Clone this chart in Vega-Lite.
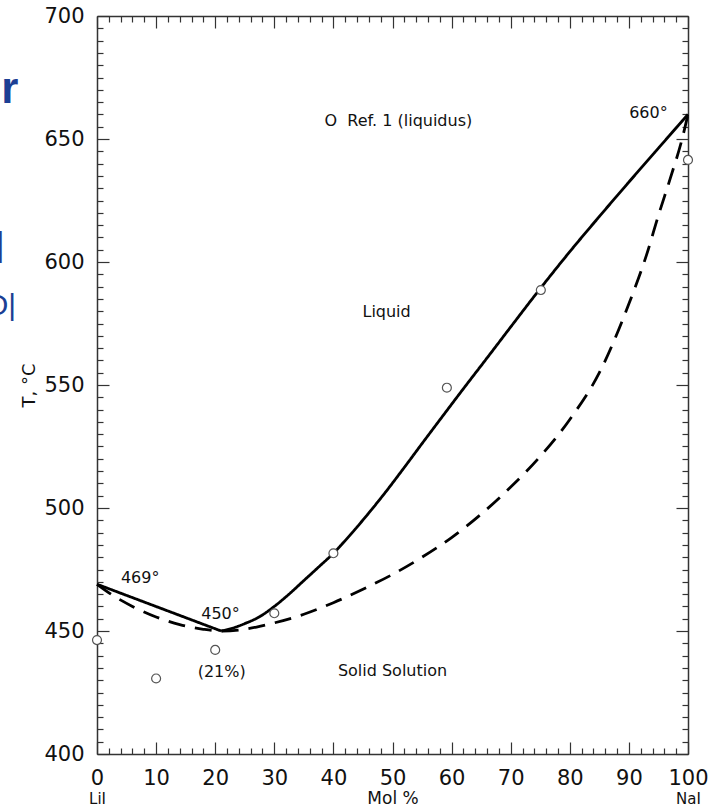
{
  "$schema": "https://vega.github.io/schema/vega-lite/v6.json",
  "autosize": {"type": "none"},
  "width": 591,
  "height": 738,
  "padding": {"left": 97, "top": 16, "right": 34, "bottom": 52},
  "background": "white",
  "config": {
    "font": "DejaVu Sans",
    "view": {"stroke": null},
    "axis": {"grid": false, "labelColor": "#111", "tickColor": "#333", "domainColor": "#333", "domainWidth": 1.5, "tickWidth": 1.2, "labelFlush": false, "labelOverlap": false}
  },
  "datasets": {
    "curves": [
      {"curve": "liquidus-left", "x": 0, "T": 469},
      {"curve": "liquidus-left", "x": 21, "T": 450},
      {"curve": "liquidus-right", "x": 21, "T": 450},
      {"curve": "liquidus-right", "x": 23, "T": 451.2},
      {"curve": "liquidus-right", "x": 25, "T": 453},
      {"curve": "liquidus-right", "x": 27.5, "T": 455.8},
      {"curve": "liquidus-right", "x": 30, "T": 460},
      {"curve": "liquidus-right", "x": 32.5, "T": 465},
      {"curve": "liquidus-right", "x": 35, "T": 470.5},
      {"curve": "liquidus-right", "x": 37.5, "T": 476},
      {"curve": "liquidus-right", "x": 40, "T": 481.6},
      {"curve": "liquidus-right", "x": 43, "T": 489.5},
      {"curve": "liquidus-right", "x": 46, "T": 498},
      {"curve": "liquidus-right", "x": 49, "T": 507},
      {"curve": "liquidus-right", "x": 52, "T": 516.5},
      {"curve": "liquidus-right", "x": 55, "T": 526.2},
      {"curve": "liquidus-right", "x": 58, "T": 535.8},
      {"curve": "liquidus-right", "x": 62, "T": 548.5},
      {"curve": "liquidus-right", "x": 66, "T": 561},
      {"curve": "liquidus-right", "x": 70, "T": 573.6},
      {"curve": "liquidus-right", "x": 75, "T": 589.2},
      {"curve": "liquidus-right", "x": 80, "T": 604.2},
      {"curve": "liquidus-right", "x": 85, "T": 618.5},
      {"curve": "liquidus-right", "x": 90, "T": 632.5},
      {"curve": "liquidus-right", "x": 95, "T": 646.3},
      {"curve": "liquidus-right", "x": 100, "T": 660},
      {"curve": "solidus", "x": 0, "T": 469},
      {"curve": "solidus", "x": 3, "T": 464},
      {"curve": "solidus", "x": 6, "T": 460},
      {"curve": "solidus", "x": 10, "T": 455.7},
      {"curve": "solidus", "x": 14, "T": 452.6},
      {"curve": "solidus", "x": 18, "T": 450.7},
      {"curve": "solidus", "x": 21, "T": 450},
      {"curve": "solidus", "x": 24, "T": 450.4},
      {"curve": "solidus", "x": 27, "T": 451.6},
      {"curve": "solidus", "x": 30, "T": 453.3},
      {"curve": "solidus", "x": 35, "T": 456.8},
      {"curve": "solidus", "x": 40, "T": 461.5},
      {"curve": "solidus", "x": 45, "T": 467},
      {"curve": "solidus", "x": 50, "T": 473},
      {"curve": "solidus", "x": 55, "T": 480},
      {"curve": "solidus", "x": 60, "T": 488},
      {"curve": "solidus", "x": 65, "T": 497.5},
      {"curve": "solidus", "x": 70, "T": 508.5},
      {"curve": "solidus", "x": 75, "T": 521},
      {"curve": "solidus", "x": 80, "T": 536},
      {"curve": "solidus", "x": 85, "T": 555},
      {"curve": "solidus", "x": 90, "T": 583},
      {"curve": "solidus", "x": 93, "T": 603},
      {"curve": "solidus", "x": 95, "T": 619},
      {"curve": "solidus", "x": 97, "T": 634},
      {"curve": "solidus", "x": 99, "T": 650},
      {"curve": "solidus", "x": 100, "T": 660}
    ],
    "ref1": [
      {"x": 0, "T": 446.3},
      {"x": 10, "T": 430.7},
      {"x": 20, "T": 442.3},
      {"x": 30, "T": 457.2},
      {"x": 40, "T": 481.6},
      {"x": 59.2, "T": 548.9},
      {"x": 75.1, "T": 588.6},
      {"x": 100, "T": 641.5}
    ],
    "notes": [
      {"x": 51.0, "T": 655.3, "text": "O\u00a0 Ref. 1 (liquidus)"},
      {"x": 49.0, "T": 577.8, "text": "Liquid"},
      {"x": 50.0, "T": 431.7, "text": "Solid Solution"},
      {"x": 7.3, "T": 469.4, "text": "469°"},
      {"x": 20.9, "T": 454.8, "text": "450°"},
      {"x": 21.1, "T": 431.2, "text": "(21%)"},
      {"x": 93.3, "T": 658.4, "text": "660°"}
    ],
    "slideBold": [
      {"x": -13.3, "T": 664.5, "text": "ir"},
      {"x": -15.6, "T": 599.6, "text": "l"}
    ],
    "slideRegular": [
      {"x": -13.7, "T": 578.5, "text": "O|"}
    ]
  },
  "resolve": {"axis": {"x": "independent", "y": "independent"}},
  "layer": [
    {
      "data": {"name": "curves"},
      "mark": {"type": "line", "color": "black", "strokeWidth": 2.8, "interpolate": "monotone"},
      "encoding": {
        "x": {
          "field": "x", "type": "quantitative",
          "scale": {"domain": [0, 100], "nice": false, "zero": false},
          "axis": {
            "orient": "bottom", "title": null,
            "values": [0,2,4,6,8,10,12,14,16,18,20,22,24,26,28,30,32,34,36,38,40,42,44,46,48,50,52,54,56,58,60,62,64,66,68,70,72,74,76,78,80,82,84,86,88,90,92,94,96,98,100],
            "labelExpr": "datum.value % 10 === 0 ? datum.label : ''",
            "tickSize": {"condition": {"test": "datum.value % 10 === 0", "value": -12}, "value": -6},
            "labelFontSize": 21, "labelPadding": 25
          }
        },
        "y": {
          "field": "T", "type": "quantitative",
          "scale": {"domain": [400, 700], "nice": false, "zero": false},
          "axis": {
            "orient": "left", "title": "T, °C",
            "titleFontSize": 18, "titleFontWeight": "normal", "titleColor": "#111", "titlePadding": 5,
            "values": [400,405,410,415,420,425,430,435,440,445,450,455,460,465,470,475,480,485,490,495,500,505,510,515,520,525,530,535,540,545,550,555,560,565,570,575,580,585,590,595,600,605,610,615,620,625,630,635,640,645,650,655,660,665,670,675,680,685,690,695,700],
            "labelExpr": "datum.value % 50 === 0 ? datum.label : ''",
            "tickSize": {"condition": {"test": "datum.value % 50 === 0", "value": -12}, "value": -6},
            "labelFontSize": 21, "labelPadding": 25
          }
        },
        "detail": {"field": "curve", "type": "nominal"},
        "strokeDash": {
          "field": "curve", "type": "nominal",
          "scale": {"domain": ["liquidus-left", "liquidus-right", "solidus"], "range": [[1, 0], [1, 0], [17, 10]]},
          "legend": null
        }
      }
    },
    {
      "data": {"name": "ref1"},
      "mark": {"type": "point", "shape": "circle", "size": 80, "filled": false, "fill": "white", "fillOpacity": 1, "stroke": "#555", "strokeWidth": 1.2, "opacity": 1},
      "encoding": {
        "x": {
          "field": "x", "type": "quantitative",
          "scale": {"domain": [0, 100], "nice": false, "zero": false},
          "axis": {
            "orient": "top", "title": null, "labels": false,
            "values": [0,2,4,6,8,10,12,14,16,18,20,22,24,26,28,30,32,34,36,38,40,42,44,46,48,50,52,54,56,58,60,62,64,66,68,70,72,74,76,78,80,82,84,86,88,90,92,94,96,98,100],
            "tickSize": {"condition": {"test": "datum.value % 10 === 0", "value": -12}, "value": -6}
          }
        },
        "y": {
          "field": "T", "type": "quantitative",
          "scale": {"domain": [400, 700], "nice": false, "zero": false},
          "axis": {
            "orient": "right", "title": null, "labels": false,
            "values": [400,405,410,415,420,425,430,435,440,445,450,455,460,465,470,475,480,485,490,495,500,505,510,515,520,525,530,535,540,545,550,555,560,565,570,575,580,585,590,595,600,605,610,615,620,625,630,635,640,645,650,655,660,665,670,675,680,685,690,695,700],
            "tickSize": {"condition": {"test": "datum.value % 50 === 0", "value": -12}, "value": -6}
          }
        }
      }
    },
    {
      "data": {"name": "notes"},
      "mark": {"type": "text", "fontSize": 16, "color": "#111", "align": "center", "baseline": "alphabetic"},
      "encoding": {
        "x": {
          "field": "x", "type": "quantitative",
          "scale": {"domain": [0, 100], "nice": false, "zero": false},
          "axis": {
            "orient": "bottom", "title": null, "ticks": false, "domain": false,
            "values": [0, 50, 100],
            "labelExpr": "datum.value === 0 ? 'LiI' : datum.value === 100 ? 'NaI' : 'Mol %'",
            "labelFontSize": {"condition": {"test": "datum.value === 50", "value": 17}, "value": 15},
            "labelBaseline": "alphabetic", "labelPadding": 49
          }
        },
        "y": {
          "field": "T", "type": "quantitative",
          "scale": {"domain": [400, 700], "nice": false, "zero": false},
          "axis": null
        },
        "text": {"field": "text"}
      }
    },
    {
      "data": {"name": "slideBold"},
      "mark": {"type": "text", "color": "#1c3f94", "align": "right", "baseline": "alphabetic", "font": "Liberation Sans Narrow, Liberation Sans", "fontSize": 44, "fontWeight": "bold"},
      "encoding": {
        "x": {"field": "x", "type": "quantitative", "scale": {"domain": [0, 100], "nice": false, "zero": false}, "axis": null},
        "y": {"field": "T", "type": "quantitative", "scale": {"domain": [400, 700], "nice": false, "zero": false}, "axis": null},
        "text": {"field": "text"}
      }
    },
    {
      "data": {"name": "slideRegular"},
      "mark": {"type": "text", "color": "#1c3f94", "align": "right", "baseline": "alphabetic", "font": "Liberation Sans", "fontSize": 30},
      "encoding": {
        "x": {"field": "x", "type": "quantitative", "scale": {"domain": [0, 100], "nice": false, "zero": false}, "axis": null},
        "y": {"field": "T", "type": "quantitative", "scale": {"domain": [400, 700], "nice": false, "zero": false}, "axis": null},
        "text": {"field": "text"}
      }
    }
  ]
}
